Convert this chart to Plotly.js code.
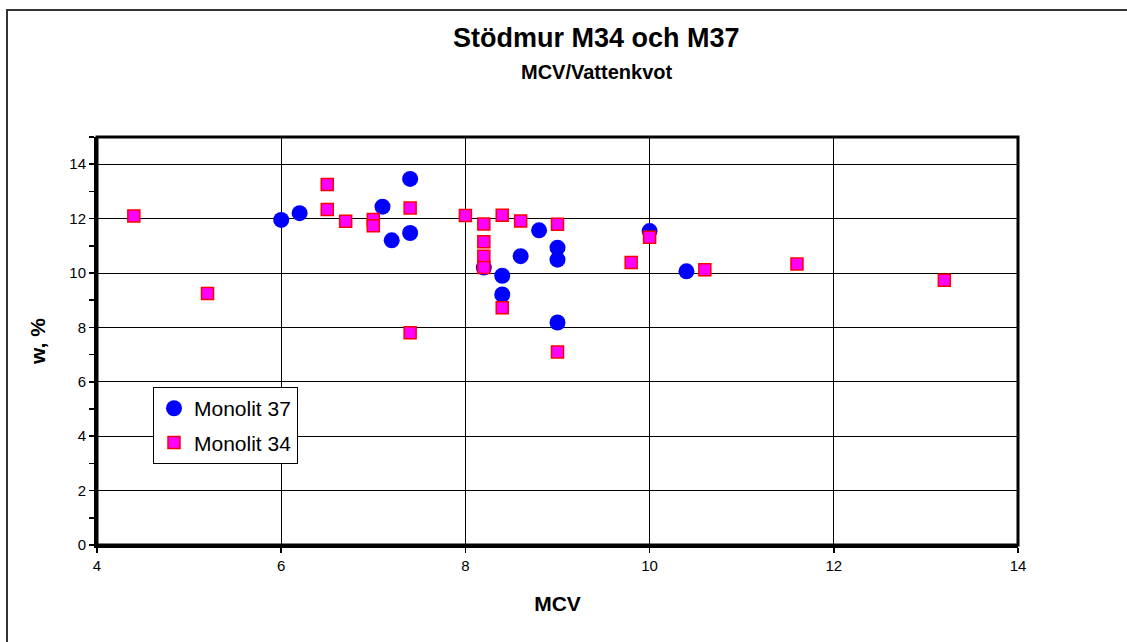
<!DOCTYPE html>
<html>
<head>
<meta charset="utf-8">
<script src="https://cdn.plot.ly/plotly-3.0.1.min.js"></script>
<style>
html,body{margin:0;padding:0;background:#fff;}
#chart{width:1127px;height:642px;}
</style>
</head>
<body>
<div id="chart"></div>
<script>
// Monolit 37 (circles)
const m37_x = [6.0, 6.2, 7.1, 7.2, 7.4, 7.4, 8.2, 8.4, 8.4, 8.6, 8.8, 9.0, 9.0, 9.0, 10.0, 10.4];
const m37_y = [11.95, 12.2, 12.44, 11.2, 13.46, 11.47, 10.2, 9.9, 9.21, 10.62, 11.57, 10.93, 10.49, 8.18, 11.54, 10.06];
// Monolit 34 (squares)
const m34_x = [4.4, 5.2, 6.5, 6.5, 6.7, 7.0, 7.0, 7.4, 7.4, 8.0, 8.2, 8.2, 8.2, 8.2, 8.4, 8.4, 8.6, 9.0, 9.0, 9.8, 10.0, 10.6, 11.6, 13.2];
const m34_y = [12.1, 9.25, 13.25, 12.33, 11.9, 11.97, 11.74, 12.39, 7.8, 12.11, 11.8, 11.15, 10.62, 10.2, 12.12, 8.72, 11.91, 11.79, 7.1, 10.39, 11.31, 10.12, 10.33, 9.73];
const xTicks = [4, 6, 8, 10, 12, 14];
const yTicks = [0, 2, 4, 6, 8, 10, 12, 14];

const font = "Arial, 'Liberation Sans', sans-serif";

const traces = [
  {
    x: m37_x, y: m37_y, type: 'scatter', mode: 'markers', name: 'Monolit 37',
    legendgroup: 'a',
    marker: {symbol: 'circle', size: 16, color: '#0000FF', line: {width: 0}}
  },
  {
    x: m34_x, y: m34_y, type: 'scatter', mode: 'markers', name: 'Monolit 34',
    legendgroup: 'b',
    marker: {symbol: 'square', size: 12, color: '#FF00FF', line: {width: 1.5, color: '#FF0000'}}
  }
];

const layout = {
  width: 1127, height: 642,
  margin: {l: 97, r: 109, t: 137, b: 97},
  paper_bgcolor: '#ffffff', plot_bgcolor: '#ffffff',
  showlegend: true,
  font: {family: font, color: '#000'},
  xaxis: {
    range: [4, 14], tickvals: xTicks, ticktext: xTicks.map(String),
    showgrid: true, gridcolor: '#000', gridwidth: 1,
    zeroline: false,
    showline: true, linecolor: '#000', linewidth: 3,
    ticks: 'outside', ticklen: 5, tickwidth: 1.5, tickcolor: '#000',
    tickfont: {family: font, size: 15, color: '#000'},
    title: {text: '<b>MCV</b>', font: {family: font, size: 21, color: '#000'}, standoff: 24}
  },
  yaxis: {
    range: [0, 15], tickvals: yTicks, ticktext: yTicks.map(String),
    showgrid: true, gridcolor: '#000', gridwidth: 1,
    zeroline: false,
    showline: true, linecolor: '#000', linewidth: 3,
    ticks: 'outside', ticklen: 5, tickwidth: 1.5, tickcolor: '#000',
    minor: {dtick: 1, tick0: 0, ticks: 'outside', ticklen: 5, tickwidth: 1.5, tickcolor: '#000', showgrid: false},
    tickfont: {family: font, size: 15, color: '#000'},
    title: {text: '<b>w, %</b>', font: {family: font, size: 21, color: '#000'}, standoff: 18}
  },
  legend: {
    x: 0.0608, y: 0.387, xanchor: 'left', yanchor: 'top',
    bgcolor: '#ffffff', bordercolor: '#000', borderwidth: 1,
    font: {family: font, size: 21, color: '#000'},
    traceorder: 'grouped', tracegroupgap: 4,
    itemsizing: 'trace', itemwidth: 30
  },
  annotations: [
    {text: '<b>Stödmur M34 och M37</b>', xref: 'paper', yref: 'paper', x: 0.542, y: (545-38)/408,
     xanchor: 'center', yanchor: 'middle', showarrow: false, font: {family: font, size: 27, color: '#000'}},
    {text: '<b>MCV/Vattenkvot</b>', xref: 'paper', yref: 'paper', x: 0.542, y: (545-72)/408,
     xanchor: 'center', yanchor: 'middle', showarrow: false, font: {family: font, size: 20, color: '#000'}}
  ],
  shapes: [
    {type: 'rect', xref: 'paper', yref: 'paper', x0: (7-97)/921, x1: (1200-97)/921, y0: (545-700)/408, y1: (545-10)/408,
     line: {color: '#333', width: 2}, fillcolor: 'rgba(0,0,0,0)', layer: 'below'},
    {type: 'rect', xref: 'paper', yref: 'paper', x0: 0, x1: 1, y0: 0, y1: 1,
     line: {color: '#000', width: 3}, fillcolor: 'rgba(0,0,0,0)', layer: 'above'}
  ]
};

Plotly.newPlot('chart', traces, layout, {displayModeBar: false, staticPlot: true});
</script>
</body>
</html>
